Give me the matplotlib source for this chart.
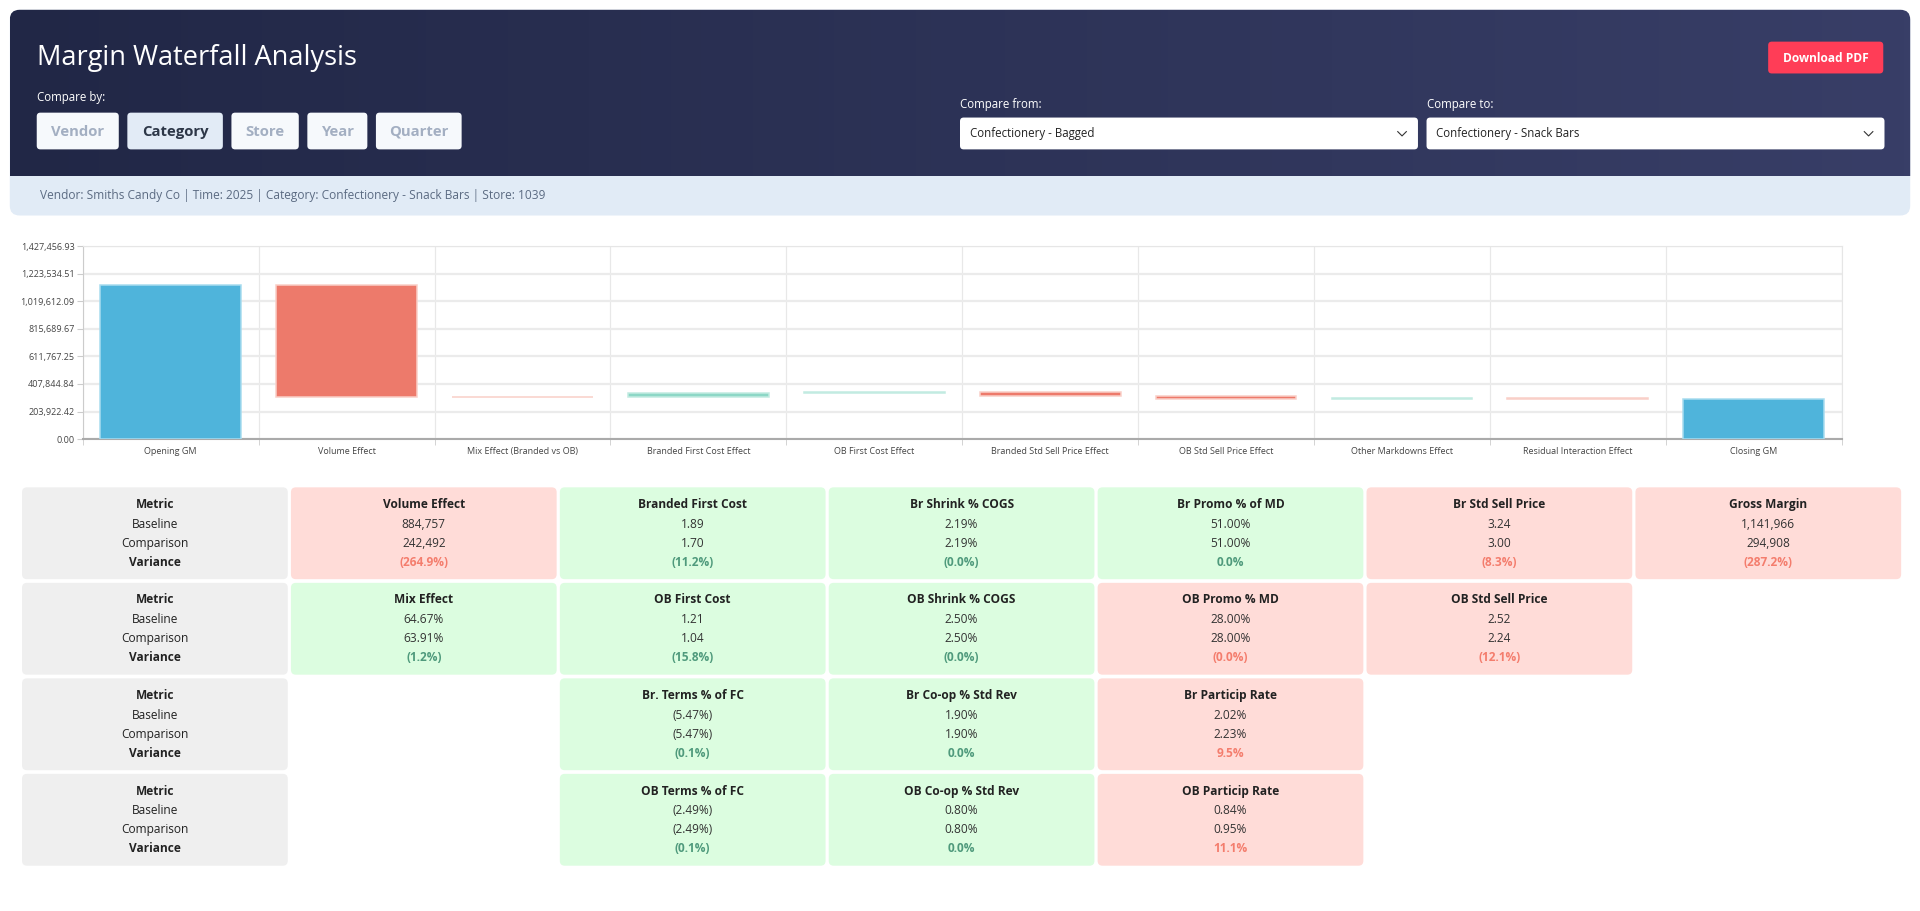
import numpy as np
import matplotlib.pyplot as plt
from matplotlib.patches import FancyBboxPatch
from matplotlib.colors import LinearSegmentedColormap

plt.rcParams['font.family'] = ['Open Sans', 'DejaVu Sans']

# waterfall data
wf_labels = ["Opening GM", "Volume Effect", "Mix Effect (Branded vs OB)", "Branded First Cost Effect",
             "OB First Cost Effect", "Branded Std Sell Price Effect", "OB Std Sell Price Effect",
             "Other Markdowns Effect", "Residual Interaction Effect", "Closing GM"]
wf_values = [1141966, -829000, -1000, 26000, 13000, -35000, -20000, 11000, -12058, 294908]
wf_total = [True, False, False, False, False, False, False, False, False, True]
y_max = 1427456.926

# metric cards
card_row = [0, 0, 0, 0, 0, 0,
            1, 1, 1, 1, 1,
            2, 2, 2,
            3, 3, 3]
card_col = [1, 2, 3, 4, 5, 6,
            1, 2, 3, 4, 5,
            2, 3, 4,
            2, 3, 4]
card_title = ["Volume Effect", "Branded First Cost", "Br Shrink % COGS", "Br Promo % of MD", "Br Std Sell Price", "Gross Margin",
              "Mix Effect", "OB First Cost", "OB Shrink % COGS", "OB Promo % MD", "OB Std Sell Price",
              "Br. Terms % of FC", "Br Co-op % Std Rev", "Br Particip Rate",
              "OB Terms % of FC", "OB Co-op % Std Rev", "OB Particip Rate"]
card_base = ["884,757", "1.89", "2.19%", "51.00%", "3.24", "1,141,966",
             "64.67%", "1.21", "2.50%", "28.00%", "2.52",
             "(5.47%)", "1.90%", "2.02%",
             "(2.49%)", "0.80%", "0.84%"]
card_comp = ["242,492", "1.70", "2.19%", "51.00%", "3.00", "294,908",
             "63.91%", "1.04", "2.50%", "28.00%", "2.24",
             "(5.47%)", "1.90%", "2.23%",
             "(2.49%)", "0.80%", "0.95%"]
card_var = ["(264.9%)", "(11.2%)", "(0.0%)", "0.0%", "(8.3%)", "(287.2%)",
            "(1.2%)", "(15.8%)", "(0.0%)", "(0.0%)", "(12.1%)",
            "(0.1%)", "0.0%", "9.5%",
            "(0.1%)", "0.0%", "11.1%"]
card_good = [False, True, True, True, False, False,
             True, True, True, False, False,
             True, True, False,
             True, True, False]

buttons = ["Vendor", "Category", "Store", "Year", "Quarter"]
button_x = [30, 104, 189, 251, 307]
button_w = [67, 78, 55, 49, 70]
active_button = "Category"

W, H = 1568, 744  # layout units (scaled to 1920x911)
fig = plt.figure(figsize=(19.2, 9.11), dpi=100)
bg = fig.add_axes([0, 0, 1, 1])
bg.set_xlim(0, W)
bg.set_ylim(H, 0)
bg.axis('off')


def rbox(x, y, w, h, color, r=4, z=1, ec='none'):
    p = FancyBboxPatch((x, y), w, h, boxstyle=f"round,pad=0,rounding_size={r}",
                       fc=color, ec=ec, lw=0.8, zorder=z)
    bg.add_patch(p)
    return p


# header
rbox(8, 8, 1552, 168, '#e1ebf6', r=8, z=1)
clip = rbox(8, 8, 1552, 160, 'none', r=8, z=0)
grad = np.linspace(0, 1, 256)[None, :]
cmap = LinearSegmentedColormap.from_list('hdr', ['#212746', '#383e67'])
im = bg.imshow(grad, extent=[8, 1560, 144, 8], cmap=cmap, aspect='auto', zorder=2)
im.set_clip_path(clip)
bg.set_xlim(0, W)
bg.set_ylim(H, 0)

bg.text(30, 47, "Margin Waterfall Analysis", color='white', fontsize=19.5, va='center', zorder=5)
bg.text(30, 80, "Compare by:", color='white', fontsize=8.3, va='center', zorder=5)
for name, bx, bw in zip(buttons, button_x, button_w):
    active = name == active_button
    rbox(bx, 92, bw, 30, '#e2ebf6' if active else '#f6f9fc', r=3, z=4)
    bg.text(bx + bw / 2, 107.5, name, color='#2d3748' if active else '#a3afc2',
            fontsize=10.7, fontweight='bold', ha='center', va='center', zorder=5)

rbox(1444, 34, 94, 26, '#ff3d57', r=3, z=4)
bg.text(1491, 47.5, "Download PDF", color='white', fontsize=8.6, fontweight='bold',
        ha='center', va='center', zorder=5)

for lx, lab, val in [(784, "Compare from:", "Confectionery - Bagged"),
                     (1165, "Compare to:", "Confectionery - Snack Bars")]:
    bg.text(lx, 85, lab, color='white', fontsize=8.3, va='center', zorder=5)
    rbox(lx, 96, 374, 26, 'white', r=3, z=4)
    bg.text(lx + 8, 109, val, color='#222222', fontsize=8.3, va='center', zorder=5)
    cx = lx + 361
    bg.plot([cx - 3.5, cx, cx + 3.5], [107.5, 111, 107.5], color='#333333', lw=0.8, zorder=5)

bg.text(33, 160, "Vendor: Smiths Candy Co | Time: 2025 | Category: Confectionery - Snack Bars | Store: 1039",
        color='#5b6b82', fontsize=8.6, va='center', zorder=5)

# waterfall chart
ax = fig.add_axes([67.6 / W, 1 - 358.6 / H, (1504 - 67.6) / W, (358.6 - 201) / H])
bottoms, heights, colors, edges = [], [], [], []
running = 0
for v, tot in zip(wf_values, wf_total):
    if tot:
        bottoms.append(0)
        heights.append(v)
        colors.append('#4fb4db')
        edges.append('#a8dcef')
        running = v
    else:
        bottoms.append(running if v >= 0 else running + v)
        heights.append(abs(v))
        if v >= 0:
            colors.append('#8dd7c6')
            edges.append('#c2ebe1')
        else:
            colors.append('#ed7a6b')
            edges.append('#f9cfc8')
        running += v
x = np.arange(len(wf_labels))
ax.bar(x, heights, bottom=bottoms, width=0.8, color=colors, edgecolor=edges, linewidth=1.1, zorder=3)
ax.set_xlim(-0.5, len(wf_labels) - 0.5)
ax.set_ylim(0, y_max)
yt = np.linspace(0, y_max, 8)
ax.set_yticks(yt)
ax.set_yticklabels([f"{t:,.2f}" for t in yt], fontsize=6.5, color='#444444')
ax.set_xticks(x)
ax.set_xticklabels(wf_labels, fontsize=6.5, color='#444444')
ax.set_xticks(np.arange(-0.5, len(wf_labels)), minor=True)
ax.tick_params(axis='x', which='major', length=0, pad=6)
ax.tick_params(axis='x', which='minor', length=4, color='#cccccc')
ax.tick_params(axis='y', length=4, color='#cccccc', pad=2)
ax.grid(axis='y', color='#ebebeb', lw=1.6, zorder=0)
ax.grid(axis='x', which='minor', color='#e8e8e8', lw=0.9, zorder=0)
for s in ['top', 'right']:
    ax.spines[s].set_color('#e6e6e6')
ax.spines['left'].set_color('#cccccc')
ax.spines['bottom'].set_color('#aaaaaa')
ax.spines['bottom'].set_linewidth(1.5)

# cards
col_x0, col_step, card_w = 18, 219.6, 217
row_y0, row_step, card_h = 398, 78, 75
line_dy = [14, 30, 45.5, 61]
for r in range(4):
    cx0 = col_x0
    rbox(cx0, row_y0 + r * row_step, card_w, card_h, '#efefef', r=4, z=2)
    cx = cx0 + card_w / 2
    for txt, dy, bold in zip(["Metric", "Baseline", "Comparison", "Variance"], line_dy,
                             [True, False, False, True]):
        bg.text(cx, row_y0 + r * row_step + dy, txt, ha='center', va='center', fontsize=8.6,
                fontweight='bold' if bold else 'normal', color='#222222', zorder=5)

for r, c, t, b, cp, v, good in zip(card_row, card_col, card_title, card_base, card_comp, card_var, card_good):
    x0 = col_x0 + c * col_step
    y0 = row_y0 + r * row_step
    rbox(x0, y0, card_w, card_h, '#dcfde0' if good else '#ffdcd8', r=4, z=2)
    cx = x0 + card_w / 2
    bg.text(cx, y0 + line_dy[0], t, ha='center', va='center', fontsize=8.6, fontweight='bold',
            color='#222222', zorder=5)
    bg.text(cx, y0 + line_dy[1], b, ha='center', va='center', fontsize=8.6, color='#333333', zorder=5)
    bg.text(cx, y0 + line_dy[2], cp, ha='center', va='center', fontsize=8.6, color='#333333', zorder=5)
    bg.text(cx, y0 + line_dy[3], v, ha='center', va='center', fontsize=8.6, fontweight='bold',
            color='#4f9a7c' if good else '#f47d6d', zorder=5)

fig.savefig('out.png', dpi=100)
